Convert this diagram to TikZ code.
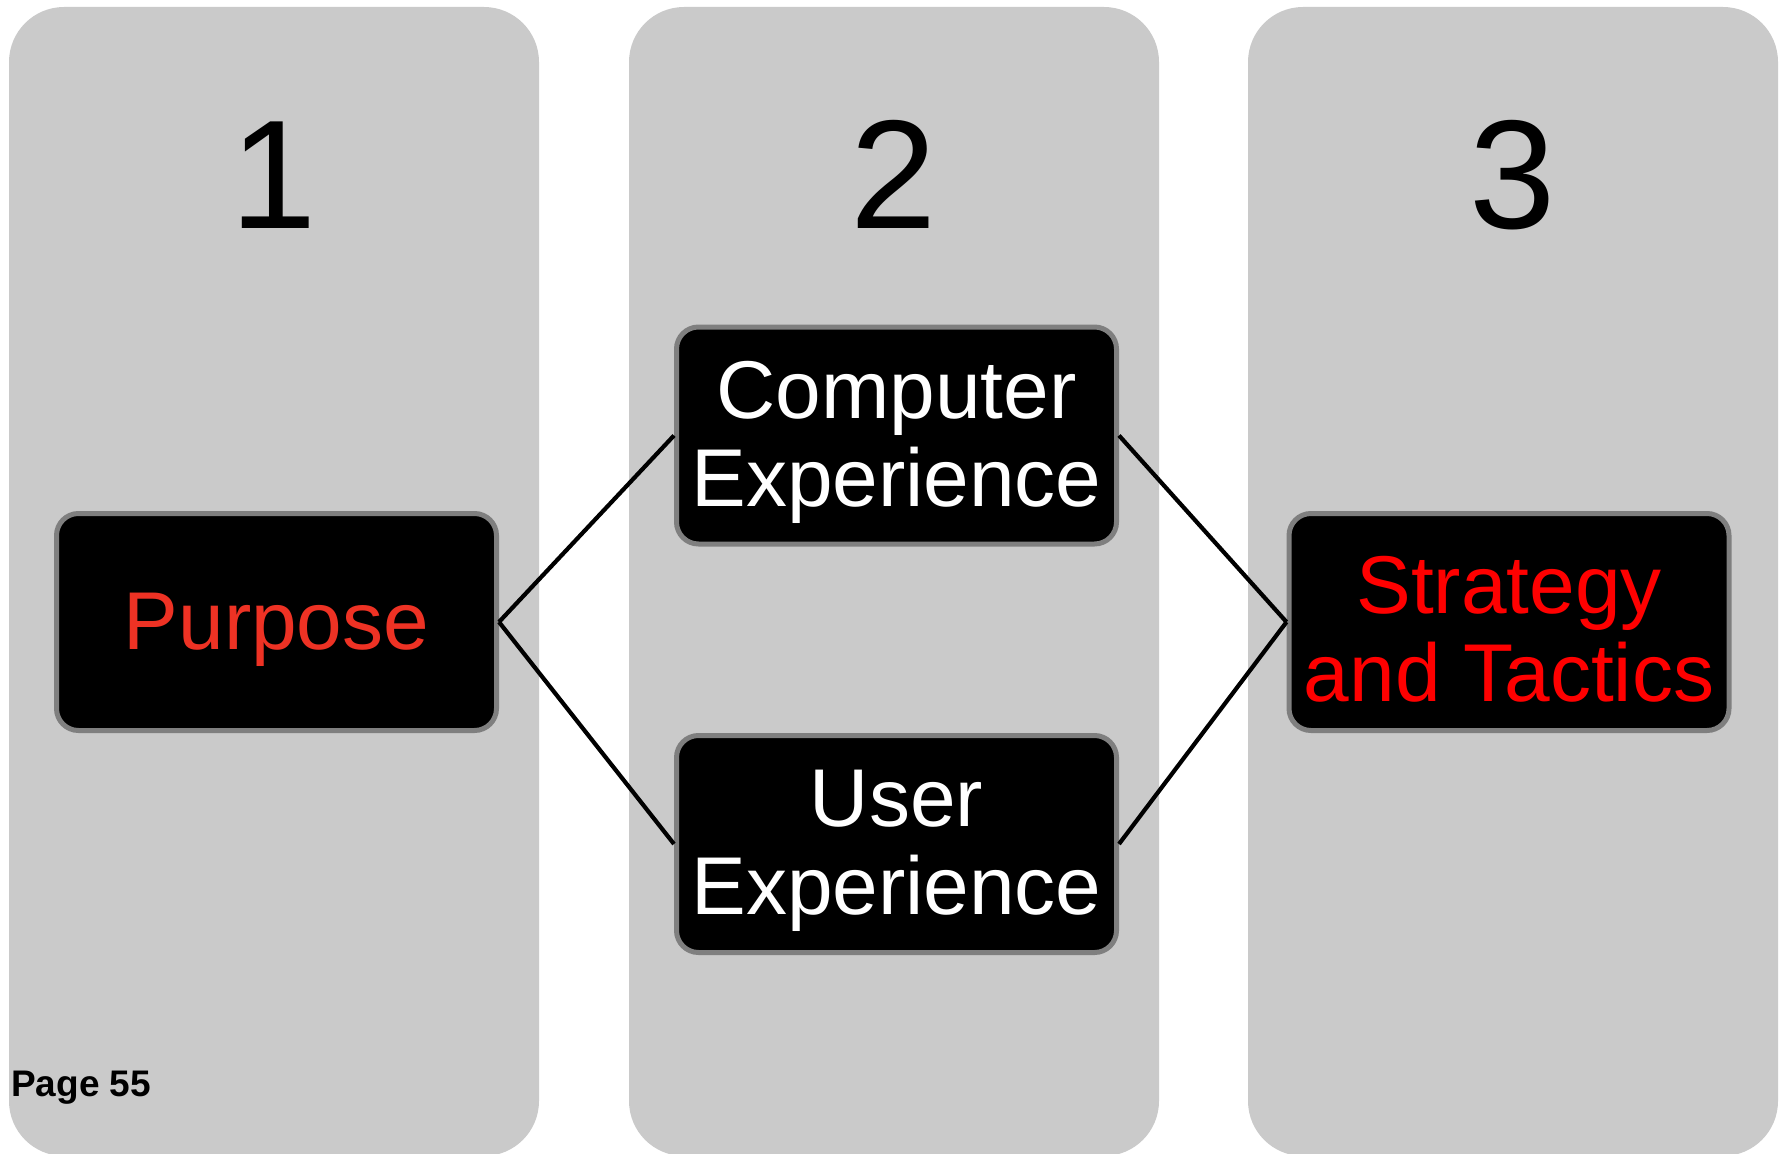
\documentclass[tikz,border=0pt]{standalone}
\usepackage{fontspec}
\setmainfont{Liberation Sans}
\definecolor{colgray}{HTML}{CACACA}
\definecolor{boxborder}{HTML}{7F7F7F}
\definecolor{purpred}{HTML}{EE3224}
\definecolor{stratred}{HTML}{FF0000}
\begin{document}
\begin{tikzpicture}[x=1pt,y=-1pt,
  column/.style={fill=colgray, rounded corners=55pt},
  stage/.style={font=\fontsize{155}{160}\selectfont, text=black, inner sep=0pt, anchor=base},
  blackbox/.style={draw=boxborder, line width=5pt, fill=black, rounded corners=22pt,
    minimum width=440pt, minimum height=217pt, inner sep=0pt},
  boxtext/.style={align=center, inner sep=0pt, font=\fontsize{82}{88}\selectfont},
  link/.style={draw=black, line width=4.2pt}]
\useasboundingbox (0,0) rectangle (1787,1153);
% columns
\fill[column] (9,7) rectangle (539,1156);
\fill[column] (629,7) rectangle (1159,1156);
\fill[column] (1248,7) rectangle (1778,1156);
% stage numbers
\node[stage] (n1) at (274,228) {1};
\node[stage] (n2) at (894,228) {2};
\node[stage] (n3) at (1513,228) {3};
% boxes
\node[blackbox] (purpose) at (276.5,622) {};
\node[blackbox] (comp) at (896.5,435.5) {};
\node[blackbox] (user) at (896.5,844) {};
\node[blackbox] (strat) at (1509,622) {};
% connectors
\draw[link] (purpose.east) -- (comp.west);
\draw[link] (purpose.east) -- (user.west);
\draw[link] (comp.east) -- (strat.west);
\draw[link] (user.east) -- (strat.west);
% box texts
\node[boxtext, text=purpred] (purposet) at ([yshift=-8pt]purpose.center) {Purpose};
\node[boxtext, text=white] (compt) at ([yshift=-7pt]comp.center) {Computer\\Experience};
\node[boxtext, text=white] (usert) at ([yshift=-7pt]user.center) {User\\Experience};
\node[boxtext, text=stratred] (stratt) at ([yshift=-7pt]strat.center) {Strategy\\and Tactics};
% page label
\node[anchor=base west, inner sep=0pt, font=\bfseries\fontsize{37}{40}\selectfont] (page) at (11,1096) {Page 55};
\end{tikzpicture}
\end{document}
